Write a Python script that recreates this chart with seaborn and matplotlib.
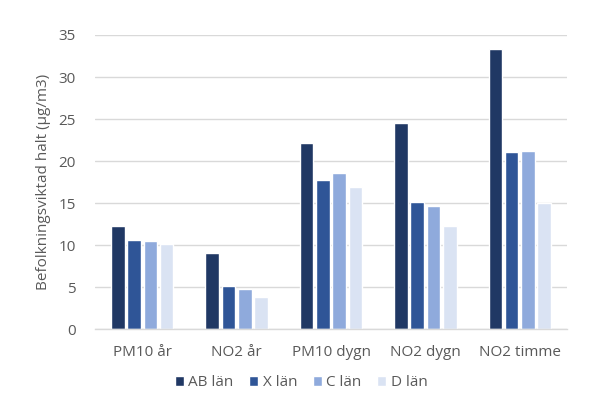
import numpy as np
import pandas as pd
import matplotlib
matplotlib.use("Agg")
import matplotlib.pyplot as plt
import seaborn as sns

categories = ["PM10 år", "NO2 år", "PM10 dygn", "NO2 dygn", "NO2 timme"]
series_names = ["AB län", "X län", "C län", "D län"]
ab_lan = [12.3, 9.1, 22.1, 24.5, 33.3]
x_lan = [10.6, 5.2, 17.8, 15.1, 21.1]
c_lan = [10.5, 4.8, 18.6, 14.7, 21.2]
d_lan = [10.1, 3.9, 16.9, 12.3, 15.0]
colors = ["#203864", "#2F5597", "#8FAADC", "#DAE3F3"]
y_ticks = [0, 5, 10, 15, 20, 25, 30, 35]

rows = []
for name, vals in zip(series_names, [ab_lan, x_lan, c_lan, d_lan]):
    for cat, v in zip(categories, vals):
        rows.append({"cat": cat, "series": name, "value": v})
df = pd.DataFrame(rows)

sns.set_theme(style="white")
plt.rcParams["font.family"] = ["Open Sans", "DejaVu Sans"]

fig = plt.figure(figsize=(6.02, 4.0), dpi=100)
ax = fig.add_axes([95/602, 1-329.3/400, (567-95)/602, (329.3-35)/400])

sns.barplot(data=df, x="cat", y="value", hue="series", order=categories,
            hue_order=series_names, palette=colors, width=0.69, gap=0.16,
            saturation=1, ax=ax, legend=True)

ax.set_ylim(0, 35)
ax.set_xlim(-0.5, 4.5)
ax.set_yticks(y_ticks)
ax.yaxis.grid(True, color="#D9D9D9", linewidth=1)
ax.set_axisbelow(True)
for s in ["top", "right", "left"]:
    ax.spines[s].set_visible(False)
ax.spines["bottom"].set_color("#D9D9D9")
ax.spines["bottom"].set_linewidth(1)
ax.tick_params(axis="both", length=0, colors="#595959", labelsize=11)
ax.tick_params(axis="y", pad=14)
ax.tick_params(axis="x", pad=11)
ax.set_xlabel("")
ax.set_ylabel("Befolkningsviktad halt (µg/m3)", color="#595959", fontsize=11, labelpad=5)

handles, labels = ax.get_legend_handles_labels()
ax.get_legend().remove()
fig.legend(handles, labels, loc="center", bbox_to_anchor=(0.5, 0.0425), ncol=4,
           frameon=False, fontsize=11, handlelength=0.6, handleheight=0.6,
           handletextpad=0.3, columnspacing=1.0, labelcolor="#595959")

fig.savefig("out.png", dpi=100)
